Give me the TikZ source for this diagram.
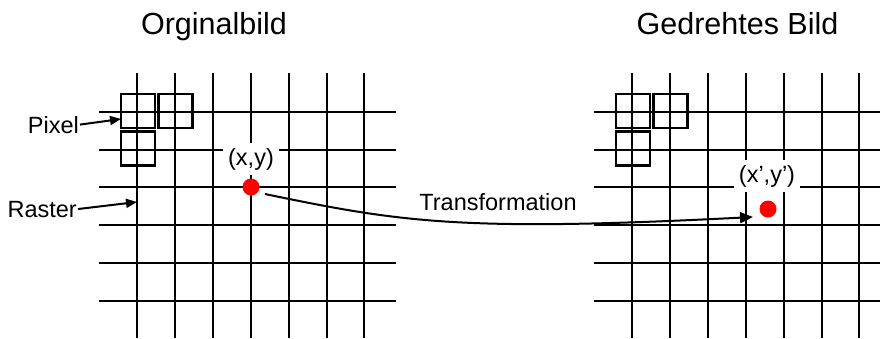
\documentclass[tikz,border=0pt]{standalone}
\usepackage{fontspec}
\setmainfont{Liberation Sans}
\usetikzlibrary{arrows.meta}
\tikzset{
    gridline/.style={line width=2.2pt},
    pixelbox/.style={draw, line width=2.8pt, minimum size=34pt, inner sep=0pt},
    reddot/.style={circle, fill=red, minimum size=17pt, inner sep=0pt},
    title/.style={anchor=base, inner sep=0pt, font=\fontsize{30.5}{36}\selectfont},
    lbl/.style={inner sep=1pt, font=\fontsize{23.5}{28}\selectfont},
    coordlbl/.style={lbl, anchor=base, fill=white, inner sep=5pt},
    arr/.style={line width=2pt, -{Triangle[length=11pt, width=9pt]}},
}
\begin{document}
\begin{tikzpicture}[x=1pt, y=-1pt]
        \useasboundingbox (0, 0) rectangle (880, 338);
        \foreach \off in {0, 495} {
            \foreach \x in {137, 175, 213, 251, 289, 327, 364}
                \draw[gridline] (\x + \off, 73) -- (\x + \off, 338);
            \foreach \y in {112, 150, 187, 225, 263, 301}
                \draw[gridline] (99 + \off, \y) -- (396 + \off, \y);
        }
        \node[title] (orig) at (214, 34) {Orginalbild};
        \node[title] (rot) at (737.5, 34) {Gedrehtes Bild};
        \node[pixelbox] (pixA) at (138, 111) {};
        \node[pixelbox] (pixB) at (175.5, 111) {};
        \node[pixelbox] (pixC) at (138, 148.5) {};
        \node[pixelbox] (pixD) at (633, 111) {};
        \node[pixelbox] (pixE) at (670.5, 111) {};
        \node[pixelbox] (pixF) at (633, 148.5) {};
        \node[coordlbl] (xy) at (251, 165) {(x,y)};
        \node[coordlbl] (xyrot) at (767, 182) {(x’,y’)};
        \node[reddot] (dotA) at (251, 187) {};
        \node[reddot] (dotB) at (768, 209) {};
        \node[lbl, anchor=base east] (pixel) at (80, 133) {Pixel};
        \node[lbl, anchor=base east] (raster) at (78, 217) {Raster};
        \node[lbl, anchor=base] (trans) at (498, 210) {Transformation};
        \coordinate (pixtip) at (121, 119);
        \coordinate (rastertip) at (137, 202);
        \coordinate (tfstart) at (265, 194);
        \coordinate (tftip) at (753, 217);
        \draw[arr] (pixel.east) -- (pixtip);
        \draw[arr] (raster.east) -- (rastertip);
        \draw[arr, -{Triangle[length=13pt, width=11pt]}] (tfstart) .. controls (400, 222) and (460, 232) .. (tftip);
    \end{tikzpicture}
\end{document}
